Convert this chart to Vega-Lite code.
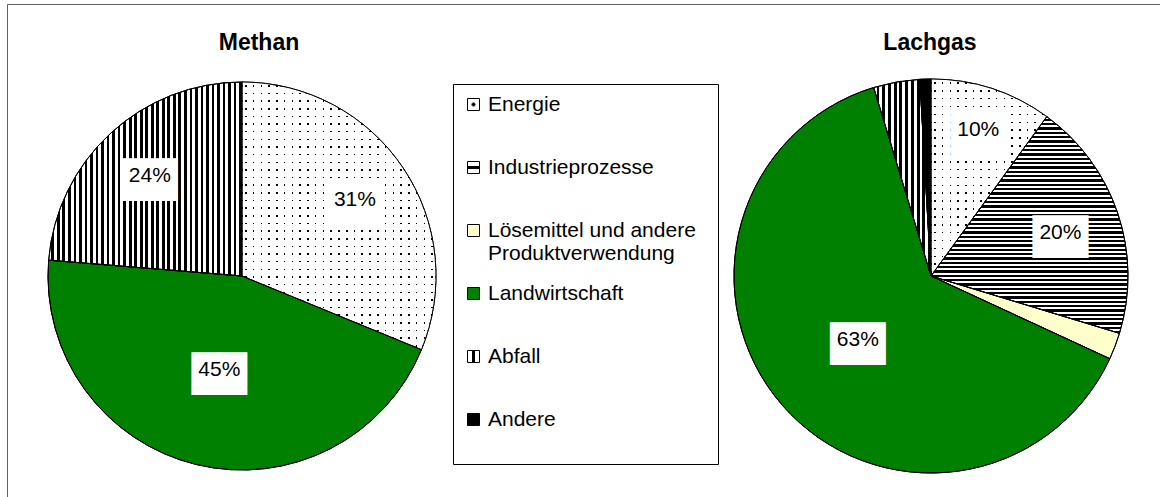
{
"$schema": "https://vega.github.io/schema/vega-lite/v6.json",
"width": 1160, "height": 497,
"autosize": {"type": "fit", "contains": "padding"},
"padding": {"left": 7, "top": 4, "right": -3, "bottom": -3},
"background": "white",
"config": {"view": {"stroke": "#606060", "strokeWidth": 1}, "font": "Liberation Sans"},
"data": {"values": [
 {"gas": "Methan", "cat": "Energie", "share": 0.312, "ord": 1},
 {"gas": "Methan", "cat": "Landwirtschaft", "share": 0.451, "ord": 4},
 {"gas": "Methan", "cat": "Abfall", "share": 0.237, "ord": 5},
 {"gas": "Lachgas", "cat": "Energie", "share": 0.100, "ord": 1},
 {"gas": "Lachgas", "cat": "Industrieprozesse", "share": 0.197, "ord": 2},
 {"gas": "Lachgas", "cat": "Lösemittel und andere Produktverwendung", "share": 0.022, "ord": 3},
 {"gas": "Lachgas", "cat": "Landwirtschaft", "share": 0.634, "ord": 4},
 {"gas": "Lachgas", "cat": "Abfall", "share": 0.038, "ord": 5},
 {"gas": "Lachgas", "cat": "Andere", "share": 0.009, "ord": 6}
]},
"encoding": {
 "x": {"field": "gas", "type": "nominal", "scale": {"type": "point", "domain": ["Methan", "Lachgas"], "padding": 0.3389, "align": 0.5032}, "axis": null},
 "y": {"datum": "pie", "type": "nominal", "scale": {"type": "point", "domain": ["title", "pie"], "padding": 0.5644, "align": 0.1483}, "axis": null}
},
"layer": [
 {
  "transform": [{"filter": "datum.gas === 'Methan'"}],
  "layer": [
   {
    "mark": {"type": "arc", "outerRadius": 194, "stroke": "black", "strokeWidth": 1},
    "encoding": {
     "theta": {"field": "share", "type": "quantitative", "stack": true},
     "order": {"field": "ord", "type": "quantitative"},
     "fill": {
      "condition": [
       {"test": "datum.cat === 'Energie'", "value": {"gradient": "linear", "x1": 0, "y1": 0, "x2": 1, "y2": 0, "stops": [
{"offset":0,"color":"#fff"},
{"offset":0.016,"color":"#fff"},{"offset":0.016,"color":"#000"},{"offset":0.024,"color":"#000"},{"offset":0.024,"color":"#fff"},
{"offset":0.056,"color":"#fff"},{"offset":0.056,"color":"#000"},{"offset":0.064,"color":"#000"},{"offset":0.064,"color":"#fff"},
{"offset":0.096,"color":"#fff"},{"offset":0.096,"color":"#000"},{"offset":0.104,"color":"#000"},{"offset":0.104,"color":"#fff"},
{"offset":0.136,"color":"#fff"},{"offset":0.136,"color":"#000"},{"offset":0.144,"color":"#000"},{"offset":0.144,"color":"#fff"},
{"offset":0.176,"color":"#fff"},{"offset":0.176,"color":"#000"},{"offset":0.184,"color":"#000"},{"offset":0.184,"color":"#fff"},
{"offset":0.216,"color":"#fff"},{"offset":0.216,"color":"#000"},{"offset":0.224,"color":"#000"},{"offset":0.224,"color":"#fff"},
{"offset":0.256,"color":"#fff"},{"offset":0.256,"color":"#000"},{"offset":0.264,"color":"#000"},{"offset":0.264,"color":"#fff"},
{"offset":0.296,"color":"#fff"},{"offset":0.296,"color":"#000"},{"offset":0.304,"color":"#000"},{"offset":0.304,"color":"#fff"},
{"offset":0.336,"color":"#fff"},{"offset":0.336,"color":"#000"},{"offset":0.344,"color":"#000"},{"offset":0.344,"color":"#fff"},
{"offset":0.376,"color":"#fff"},{"offset":0.376,"color":"#000"},{"offset":0.384,"color":"#000"},{"offset":0.384,"color":"#fff"},
{"offset":0.416,"color":"#fff"},{"offset":0.416,"color":"#000"},{"offset":0.424,"color":"#000"},{"offset":0.424,"color":"#fff"},
{"offset":0.456,"color":"#fff"},{"offset":0.456,"color":"#000"},{"offset":0.464,"color":"#000"},{"offset":0.464,"color":"#fff"},
{"offset":0.496,"color":"#fff"},{"offset":0.496,"color":"#000"},{"offset":0.504,"color":"#000"},{"offset":0.504,"color":"#fff"},
{"offset":0.536,"color":"#fff"},{"offset":0.536,"color":"#000"},{"offset":0.544,"color":"#000"},{"offset":0.544,"color":"#fff"},
{"offset":0.576,"color":"#fff"},{"offset":0.576,"color":"#000"},{"offset":0.584,"color":"#000"},{"offset":0.584,"color":"#fff"},
{"offset":0.616,"color":"#fff"},{"offset":0.616,"color":"#000"},{"offset":0.624,"color":"#000"},{"offset":0.624,"color":"#fff"},
{"offset":0.656,"color":"#fff"},{"offset":0.656,"color":"#000"},{"offset":0.664,"color":"#000"},{"offset":0.664,"color":"#fff"},
{"offset":0.696,"color":"#fff"},{"offset":0.696,"color":"#000"},{"offset":0.704,"color":"#000"},{"offset":0.704,"color":"#fff"},
{"offset":0.736,"color":"#fff"},{"offset":0.736,"color":"#000"},{"offset":0.744,"color":"#000"},{"offset":0.744,"color":"#fff"},
{"offset":0.776,"color":"#fff"},{"offset":0.776,"color":"#000"},{"offset":0.784,"color":"#000"},{"offset":0.784,"color":"#fff"},
{"offset":0.816,"color":"#fff"},{"offset":0.816,"color":"#000"},{"offset":0.824,"color":"#000"},{"offset":0.824,"color":"#fff"},
{"offset":0.856,"color":"#fff"},{"offset":0.856,"color":"#000"},{"offset":0.864,"color":"#000"},{"offset":0.864,"color":"#fff"},
{"offset":0.896,"color":"#fff"},{"offset":0.896,"color":"#000"},{"offset":0.904,"color":"#000"},{"offset":0.904,"color":"#fff"},
{"offset":0.936,"color":"#fff"},{"offset":0.936,"color":"#000"},{"offset":0.944,"color":"#000"},{"offset":0.944,"color":"#fff"},
{"offset":0.976,"color":"#fff"},{"offset":0.976,"color":"#000"},{"offset":0.984,"color":"#000"},{"offset":0.984,"color":"#fff"},
{"offset":1,"color":"#fff"}]}},
       {"test": "datum.cat === 'Abfall'", "value": {"gradient": "linear", "x1": 0, "y1": 0, "x2": 1, "y2": 0, "stops": [
{"offset":0,"color":"#fff"},
{"offset":0.0143,"color":"#fff"},{"offset":0.0143,"color":"#000"},{"offset":0.0286,"color":"#000"},{"offset":0.0286,"color":"#fff"},
{"offset":0.0429,"color":"#fff"},{"offset":0.0429,"color":"#000"},{"offset":0.0571,"color":"#000"},{"offset":0.0571,"color":"#fff"},
{"offset":0.0714,"color":"#fff"},{"offset":0.0714,"color":"#000"},{"offset":0.0857,"color":"#000"},{"offset":0.0857,"color":"#fff"},
{"offset":0.1,"color":"#fff"},{"offset":0.1,"color":"#000"},{"offset":0.1143,"color":"#000"},{"offset":0.1143,"color":"#fff"},
{"offset":0.1286,"color":"#fff"},{"offset":0.1286,"color":"#000"},{"offset":0.1429,"color":"#000"},{"offset":0.1429,"color":"#fff"},
{"offset":0.1571,"color":"#fff"},{"offset":0.1571,"color":"#000"},{"offset":0.1714,"color":"#000"},{"offset":0.1714,"color":"#fff"},
{"offset":0.1857,"color":"#fff"},{"offset":0.1857,"color":"#000"},{"offset":0.2,"color":"#000"},{"offset":0.2,"color":"#fff"},
{"offset":0.2143,"color":"#fff"},{"offset":0.2143,"color":"#000"},{"offset":0.2286,"color":"#000"},{"offset":0.2286,"color":"#fff"},
{"offset":0.2429,"color":"#fff"},{"offset":0.2429,"color":"#000"},{"offset":0.2571,"color":"#000"},{"offset":0.2571,"color":"#fff"},
{"offset":0.2714,"color":"#fff"},{"offset":0.2714,"color":"#000"},{"offset":0.2857,"color":"#000"},{"offset":0.2857,"color":"#fff"},
{"offset":0.3,"color":"#fff"},{"offset":0.3,"color":"#000"},{"offset":0.3143,"color":"#000"},{"offset":0.3143,"color":"#fff"},
{"offset":0.3286,"color":"#fff"},{"offset":0.3286,"color":"#000"},{"offset":0.3429,"color":"#000"},{"offset":0.3429,"color":"#fff"},
{"offset":0.3571,"color":"#fff"},{"offset":0.3571,"color":"#000"},{"offset":0.3714,"color":"#000"},{"offset":0.3714,"color":"#fff"},
{"offset":0.3857,"color":"#fff"},{"offset":0.3857,"color":"#000"},{"offset":0.4,"color":"#000"},{"offset":0.4,"color":"#fff"},
{"offset":0.4143,"color":"#fff"},{"offset":0.4143,"color":"#000"},{"offset":0.4286,"color":"#000"},{"offset":0.4286,"color":"#fff"},
{"offset":0.4429,"color":"#fff"},{"offset":0.4429,"color":"#000"},{"offset":0.4571,"color":"#000"},{"offset":0.4571,"color":"#fff"},
{"offset":0.4714,"color":"#fff"},{"offset":0.4714,"color":"#000"},{"offset":0.4857,"color":"#000"},{"offset":0.4857,"color":"#fff"},
{"offset":0.5,"color":"#fff"},{"offset":0.5,"color":"#000"},{"offset":0.5143,"color":"#000"},{"offset":0.5143,"color":"#fff"},
{"offset":0.5286,"color":"#fff"},{"offset":0.5286,"color":"#000"},{"offset":0.5429,"color":"#000"},{"offset":0.5429,"color":"#fff"},
{"offset":0.5571,"color":"#fff"},{"offset":0.5571,"color":"#000"},{"offset":0.5714,"color":"#000"},{"offset":0.5714,"color":"#fff"},
{"offset":0.5857,"color":"#fff"},{"offset":0.5857,"color":"#000"},{"offset":0.6,"color":"#000"},{"offset":0.6,"color":"#fff"},
{"offset":0.6143,"color":"#fff"},{"offset":0.6143,"color":"#000"},{"offset":0.6286,"color":"#000"},{"offset":0.6286,"color":"#fff"},
{"offset":0.6429,"color":"#fff"},{"offset":0.6429,"color":"#000"},{"offset":0.6571,"color":"#000"},{"offset":0.6571,"color":"#fff"},
{"offset":0.6714,"color":"#fff"},{"offset":0.6714,"color":"#000"},{"offset":0.6857,"color":"#000"},{"offset":0.6857,"color":"#fff"},
{"offset":0.7,"color":"#fff"},{"offset":0.7,"color":"#000"},{"offset":0.7143,"color":"#000"},{"offset":0.7143,"color":"#fff"},
{"offset":0.7286,"color":"#fff"},{"offset":0.7286,"color":"#000"},{"offset":0.7429,"color":"#000"},{"offset":0.7429,"color":"#fff"},
{"offset":0.7571,"color":"#fff"},{"offset":0.7571,"color":"#000"},{"offset":0.7714,"color":"#000"},{"offset":0.7714,"color":"#fff"},
{"offset":0.7857,"color":"#fff"},{"offset":0.7857,"color":"#000"},{"offset":0.8,"color":"#000"},{"offset":0.8,"color":"#fff"},
{"offset":0.8143,"color":"#fff"},{"offset":0.8143,"color":"#000"},{"offset":0.8286,"color":"#000"},{"offset":0.8286,"color":"#fff"},
{"offset":0.8429,"color":"#fff"},{"offset":0.8429,"color":"#000"},{"offset":0.8571,"color":"#000"},{"offset":0.8571,"color":"#fff"},
{"offset":0.8714,"color":"#fff"},{"offset":0.8714,"color":"#000"},{"offset":0.8857,"color":"#000"},{"offset":0.8857,"color":"#fff"},
{"offset":0.9,"color":"#fff"},{"offset":0.9,"color":"#000"},{"offset":0.9143,"color":"#000"},{"offset":0.9143,"color":"#fff"},
{"offset":0.9286,"color":"#fff"},{"offset":0.9286,"color":"#000"},{"offset":0.9429,"color":"#000"},{"offset":0.9429,"color":"#fff"},
{"offset":0.9571,"color":"#fff"},{"offset":0.9571,"color":"#000"},{"offset":0.9714,"color":"#000"},{"offset":0.9714,"color":"#fff"},
{"offset":0.9857,"color":"#fff"},{"offset":0.9857,"color":"#000"},{"offset":1,"color":"#000"}]}}
      ],
      "field": "cat", "type": "nominal",
      "scale": {"domain": ["Energie", "Industrieprozesse", "Lösemittel und andere Produktverwendung", "Landwirtschaft", "Abfall", "Andere"], "range": [
       {"expr": "{gradient: 'radial', x1: 0.5, y1: 0.5, r1: 0, x2: 0.5, y2: 0.5, r2: 0.5, stops: [{offset: 0, color: '#000'}, {offset: 0.3, color: '#000'}, {offset: 0.3, color: '#fff'}, {offset: 1, color: '#fff'}]}"},
       {"expr": "{gradient: 'linear', x1: 0, y1: 0, x2: 0, y2: 1, stops: [{offset: 0, color: '#fff'}, {offset: 0.38, color: '#fff'}, {offset: 0.38, color: '#000'}, {offset: 0.62, color: '#000'}, {offset: 0.62, color: '#fff'}, {offset: 1, color: '#fff'}]}"},
       "#ffffcc", "#008000",
       {"expr": "{gradient: 'linear', x1: 0, y1: 0, x2: 1, y2: 0, stops: [{offset: 0, color: '#fff'}, {offset: 0.38, color: '#fff'}, {offset: 0.38, color: '#000'}, {offset: 0.62, color: '#000'}, {offset: 0.62, color: '#fff'}, {offset: 1, color: '#fff'}]}"},
       "#000000"]},
      "legend": {
       "orient": "none", "legendX": 446, "legendY": 80, "direction": "vertical",
       "title": "\u200b\u00a0\u00a0\u00a0\u00a0\u00a0\u00a0\u00a0\u00a0\u00a0\u00a0\u00a0\u00a0\u00a0\u00a0\u00a0\u00a0\u00a0\u00a0\u00a0\u00a0\u00a0\u00a0\u00a0\u00a0\u00a0\u00a0\u00a0\u00a0\u00a0\u00a0\u00a0\u00a0\u00a0\u00a0\u00a0\u00a0\u00a0\u00a0\u00a0\u00a0\u00a0\u00a0\u00a0\u00a0\u200b",
       "titleOrient": "bottom", "titleFont": "Liberation Sans", "titleFontSize": 20, "titlePadding": 4, "titleLimit": 400, "titleColor": "white",
       "symbolType": "square", "symbolSize": 144, "symbolStrokeWidth": 1,
       "labelFont": "Liberation Sans", "labelFontSize": 21, "labelColor": "black", "labelLimit": 400,
       "labelOffset": 4, "symbolOffset": 0, "padding": 10, "rowPadding": 18, "gridAlign": "all",
       "strokeColor": "black",
       "labelExpr": "datum.label === 'Lösemittel und andere Produktverwendung' ? ['Lösemittel und andere', 'Produktverwendung'] : datum.label",
       "encode": {"labels": {"lineHeight": {"value": 25}}}
      }
     }
    }
   },
   {
    "mark": {"type": "arc", "outerRadius": 194, "stroke": "black", "strokeWidth": 1},
    "encoding": {
     "theta": {"field": "share", "type": "quantitative", "stack": true},
     "order": {"field": "ord", "type": "quantitative"},
     "fill": {"condition": {"test": "datum.cat === 'Energie'", "value": {"gradient": "linear", "x1": 0, "y1": 0, "x2": 0, "y2": 1, "stops": [
{"offset":0,"color":"#fff"},
{"offset":0.0114,"color":"#fff"},{"offset":0.0114,"color":"transparent"},{"offset":0.0171,"color":"transparent"},{"offset":0.0171,"color":"#fff"},
{"offset":0.04,"color":"#fff"},{"offset":0.04,"color":"transparent"},{"offset":0.0457,"color":"transparent"},{"offset":0.0457,"color":"#fff"},
{"offset":0.0686,"color":"#fff"},{"offset":0.0686,"color":"transparent"},{"offset":0.0743,"color":"transparent"},{"offset":0.0743,"color":"#fff"},
{"offset":0.0971,"color":"#fff"},{"offset":0.0971,"color":"transparent"},{"offset":0.1028,"color":"transparent"},{"offset":0.1028,"color":"#fff"},
{"offset":0.1257,"color":"#fff"},{"offset":0.1257,"color":"transparent"},{"offset":0.1314,"color":"transparent"},{"offset":0.1314,"color":"#fff"},
{"offset":0.1543,"color":"#fff"},{"offset":0.1543,"color":"transparent"},{"offset":0.16,"color":"transparent"},{"offset":0.16,"color":"#fff"},
{"offset":0.1828,"color":"#fff"},{"offset":0.1828,"color":"transparent"},{"offset":0.1885,"color":"transparent"},{"offset":0.1885,"color":"#fff"},
{"offset":0.2114,"color":"#fff"},{"offset":0.2114,"color":"transparent"},{"offset":0.2171,"color":"transparent"},{"offset":0.2171,"color":"#fff"},
{"offset":0.24,"color":"#fff"},{"offset":0.24,"color":"transparent"},{"offset":0.2457,"color":"transparent"},{"offset":0.2457,"color":"#fff"},
{"offset":0.2685,"color":"#fff"},{"offset":0.2685,"color":"transparent"},{"offset":0.2742,"color":"transparent"},{"offset":0.2742,"color":"#fff"},
{"offset":0.2971,"color":"#fff"},{"offset":0.2971,"color":"transparent"},{"offset":0.3028,"color":"transparent"},{"offset":0.3028,"color":"#fff"},
{"offset":0.3257,"color":"#fff"},{"offset":0.3257,"color":"transparent"},{"offset":0.3314,"color":"transparent"},{"offset":0.3314,"color":"#fff"},
{"offset":0.3543,"color":"#fff"},{"offset":0.3543,"color":"transparent"},{"offset":0.36,"color":"transparent"},{"offset":0.36,"color":"#fff"},
{"offset":0.3828,"color":"#fff"},{"offset":0.3828,"color":"transparent"},{"offset":0.3885,"color":"transparent"},{"offset":0.3885,"color":"#fff"},
{"offset":0.4114,"color":"#fff"},{"offset":0.4114,"color":"transparent"},{"offset":0.4171,"color":"transparent"},{"offset":0.4171,"color":"#fff"},
{"offset":0.44,"color":"#fff"},{"offset":0.44,"color":"transparent"},{"offset":0.4457,"color":"transparent"},{"offset":0.4457,"color":"#fff"},
{"offset":0.4685,"color":"#fff"},{"offset":0.4685,"color":"transparent"},{"offset":0.4742,"color":"transparent"},{"offset":0.4742,"color":"#fff"},
{"offset":0.4971,"color":"#fff"},{"offset":0.4971,"color":"transparent"},{"offset":0.5028,"color":"transparent"},{"offset":0.5028,"color":"#fff"},
{"offset":0.5257,"color":"#fff"},{"offset":0.5257,"color":"transparent"},{"offset":0.5314,"color":"transparent"},{"offset":0.5314,"color":"#fff"},
{"offset":0.5543,"color":"#fff"},{"offset":0.5543,"color":"transparent"},{"offset":0.56,"color":"transparent"},{"offset":0.56,"color":"#fff"},
{"offset":0.5828,"color":"#fff"},{"offset":0.5828,"color":"transparent"},{"offset":0.5885,"color":"transparent"},{"offset":0.5885,"color":"#fff"},
{"offset":0.6114,"color":"#fff"},{"offset":0.6114,"color":"transparent"},{"offset":0.6171,"color":"transparent"},{"offset":0.6171,"color":"#fff"},
{"offset":0.64,"color":"#fff"},{"offset":0.64,"color":"transparent"},{"offset":0.6457,"color":"transparent"},{"offset":0.6457,"color":"#fff"},
{"offset":0.6685,"color":"#fff"},{"offset":0.6685,"color":"transparent"},{"offset":0.6742,"color":"transparent"},{"offset":0.6742,"color":"#fff"},
{"offset":0.6971,"color":"#fff"},{"offset":0.6971,"color":"transparent"},{"offset":0.7028,"color":"transparent"},{"offset":0.7028,"color":"#fff"},
{"offset":0.7257,"color":"#fff"},{"offset":0.7257,"color":"transparent"},{"offset":0.7314,"color":"transparent"},{"offset":0.7314,"color":"#fff"},
{"offset":0.7543,"color":"#fff"},{"offset":0.7543,"color":"transparent"},{"offset":0.76,"color":"transparent"},{"offset":0.76,"color":"#fff"},
{"offset":0.7828,"color":"#fff"},{"offset":0.7828,"color":"transparent"},{"offset":0.7885,"color":"transparent"},{"offset":0.7885,"color":"#fff"},
{"offset":0.8114,"color":"#fff"},{"offset":0.8114,"color":"transparent"},{"offset":0.8171,"color":"transparent"},{"offset":0.8171,"color":"#fff"},
{"offset":0.84,"color":"#fff"},{"offset":0.84,"color":"transparent"},{"offset":0.8457,"color":"transparent"},{"offset":0.8457,"color":"#fff"},
{"offset":0.8685,"color":"#fff"},{"offset":0.8685,"color":"transparent"},{"offset":0.8742,"color":"transparent"},{"offset":0.8742,"color":"#fff"},
{"offset":0.8971,"color":"#fff"},{"offset":0.8971,"color":"transparent"},{"offset":0.9028,"color":"transparent"},{"offset":0.9028,"color":"#fff"},
{"offset":0.9257,"color":"#fff"},{"offset":0.9257,"color":"transparent"},{"offset":0.9314,"color":"transparent"},{"offset":0.9314,"color":"#fff"},
{"offset":0.9543,"color":"#fff"},{"offset":0.9543,"color":"transparent"},{"offset":0.96,"color":"transparent"},{"offset":0.96,"color":"#fff"},
{"offset":0.9828,"color":"#fff"},{"offset":0.9828,"color":"transparent"},{"offset":0.9885,"color":"transparent"},{"offset":0.9885,"color":"#fff"},
{"offset":1,"color":"#fff"}]}},
      "value": "transparent"}
    }
   },
   {
    "mark": {"type": "text", "font": "DejaVu Sans", "fontSize": 36, "fill": "white", "baseline": "middle", "align": "center", "dy": 5},
    "encoding": {
     "theta": {"field": "share", "type": "quantitative", "stack": true},
     "order": {"field": "ord", "type": "quantitative"},
     "radius": {"field": "share", "type": "quantitative", "scale": {"type": "linear", "domain": [0.1, 0.2, 0.32, 0.45], "range": [153, 136, 136, 97], "clamp": true, "zero": false}},
     "text": {"condition": {"test": "datum.share < 0.05", "value": ""}, "value": "██"}
    }
   },
   {
    "mark": {"type": "text", "font": "Liberation Sans", "fontSize": 21, "fill": "black", "baseline": "middle", "align": "center"},
    "encoding": {
     "theta": {"field": "share", "type": "quantitative", "stack": true},
     "order": {"field": "ord", "type": "quantitative"},
     "radius": {"field": "share", "type": "quantitative", "scale": {"type": "linear", "domain": [0.1, 0.2, 0.32, 0.45], "range": [153, 136, 136, 97], "clamp": true, "zero": false}},
     "text": {"condition": {"test": "datum.share < 0.05", "value": ""}, "field": "share", "type": "quantitative", "format": ".0%"}
    }
   },
   {
    "transform": [{"aggregate": [{"op": "count", "as": "n"}], "groupby": ["gas"]}],
    "mark": {"type": "text", "font": "Liberation Sans", "fontSize": 23, "fontWeight": "bold", "fill": "black", "baseline": "middle", "align": "center", "dx": 17},
    "encoding": {"y": {"datum": "title", "type": "nominal"}, "text": {"field": "gas", "type": "nominal"}}
   }
  ]
 },
 {
  "transform": [{"filter": "datum.gas === 'Lachgas'"}],
  "layer": [
   {
    "mark": {"type": "arc", "outerRadius": 197, "stroke": "black", "strokeWidth": 1},
    "encoding": {
     "theta": {"field": "share", "type": "quantitative", "stack": true},
     "order": {"field": "ord", "type": "quantitative"},
     "fill": {
      "condition": [
       {"test": "datum.cat === 'Energie'", "value": {"gradient": "linear", "x1": 0, "y1": 0, "x2": 1, "y2": 0, "stops": [
{"offset":0,"color":"#fff"},
{"offset":0.0267,"color":"#fff"},{"offset":0.0267,"color":"#000"},{"offset":0.04,"color":"#000"},{"offset":0.04,"color":"#fff"},
{"offset":0.0933,"color":"#fff"},{"offset":0.0933,"color":"#000"},{"offset":0.1067,"color":"#000"},{"offset":0.1067,"color":"#fff"},
{"offset":0.16,"color":"#fff"},{"offset":0.16,"color":"#000"},{"offset":0.1733,"color":"#000"},{"offset":0.1733,"color":"#fff"},
{"offset":0.2267,"color":"#fff"},{"offset":0.2267,"color":"#000"},{"offset":0.24,"color":"#000"},{"offset":0.24,"color":"#fff"},
{"offset":0.2933,"color":"#fff"},{"offset":0.2933,"color":"#000"},{"offset":0.3067,"color":"#000"},{"offset":0.3067,"color":"#fff"},
{"offset":0.36,"color":"#fff"},{"offset":0.36,"color":"#000"},{"offset":0.3733,"color":"#000"},{"offset":0.3733,"color":"#fff"},
{"offset":0.4267,"color":"#fff"},{"offset":0.4267,"color":"#000"},{"offset":0.44,"color":"#000"},{"offset":0.44,"color":"#fff"},
{"offset":0.4933,"color":"#fff"},{"offset":0.4933,"color":"#000"},{"offset":0.5067,"color":"#000"},{"offset":0.5067,"color":"#fff"},
{"offset":0.56,"color":"#fff"},{"offset":0.56,"color":"#000"},{"offset":0.5733,"color":"#000"},{"offset":0.5733,"color":"#fff"},
{"offset":0.6267,"color":"#fff"},{"offset":0.6267,"color":"#000"},{"offset":0.64,"color":"#000"},{"offset":0.64,"color":"#fff"},
{"offset":0.6933,"color":"#fff"},{"offset":0.6933,"color":"#000"},{"offset":0.7067,"color":"#000"},{"offset":0.7067,"color":"#fff"},
{"offset":0.76,"color":"#fff"},{"offset":0.76,"color":"#000"},{"offset":0.7733,"color":"#000"},{"offset":0.7733,"color":"#fff"},
{"offset":0.8267,"color":"#fff"},{"offset":0.8267,"color":"#000"},{"offset":0.84,"color":"#000"},{"offset":0.84,"color":"#fff"},
{"offset":0.8933,"color":"#fff"},{"offset":0.8933,"color":"#000"},{"offset":0.9067,"color":"#000"},{"offset":0.9067,"color":"#fff"},
{"offset":0.96,"color":"#fff"},{"offset":0.96,"color":"#000"},{"offset":0.9733,"color":"#000"},{"offset":0.9733,"color":"#fff"},
{"offset":1,"color":"#fff"}]}},
       {"test": "datum.cat === 'Industrieprozesse'", "value": {"gradient": "linear", "x1": 0, "y1": 0, "x2": 0, "y2": 1, "stops": [
{"offset":0,"color":"#fff"},
{"offset":0.01,"color":"#fff"},{"offset":0.01,"color":"#000"},{"offset":0.02,"color":"#000"},{"offset":0.02,"color":"#fff"},
{"offset":0.03,"color":"#fff"},{"offset":0.03,"color":"#000"},{"offset":0.04,"color":"#000"},{"offset":0.04,"color":"#fff"},
{"offset":0.05,"color":"#fff"},{"offset":0.05,"color":"#000"},{"offset":0.06,"color":"#000"},{"offset":0.06,"color":"#fff"},
{"offset":0.07,"color":"#fff"},{"offset":0.07,"color":"#000"},{"offset":0.08,"color":"#000"},{"offset":0.08,"color":"#fff"},
{"offset":0.09,"color":"#fff"},{"offset":0.09,"color":"#000"},{"offset":0.1,"color":"#000"},{"offset":0.1,"color":"#fff"},
{"offset":0.11,"color":"#fff"},{"offset":0.11,"color":"#000"},{"offset":0.12,"color":"#000"},{"offset":0.12,"color":"#fff"},
{"offset":0.13,"color":"#fff"},{"offset":0.13,"color":"#000"},{"offset":0.14,"color":"#000"},{"offset":0.14,"color":"#fff"},
{"offset":0.15,"color":"#fff"},{"offset":0.15,"color":"#000"},{"offset":0.16,"color":"#000"},{"offset":0.16,"color":"#fff"},
{"offset":0.17,"color":"#fff"},{"offset":0.17,"color":"#000"},{"offset":0.18,"color":"#000"},{"offset":0.18,"color":"#fff"},
{"offset":0.19,"color":"#fff"},{"offset":0.19,"color":"#000"},{"offset":0.2,"color":"#000"},{"offset":0.2,"color":"#fff"},
{"offset":0.21,"color":"#fff"},{"offset":0.21,"color":"#000"},{"offset":0.22,"color":"#000"},{"offset":0.22,"color":"#fff"},
{"offset":0.23,"color":"#fff"},{"offset":0.23,"color":"#000"},{"offset":0.24,"color":"#000"},{"offset":0.24,"color":"#fff"},
{"offset":0.25,"color":"#fff"},{"offset":0.25,"color":"#000"},{"offset":0.26,"color":"#000"},{"offset":0.26,"color":"#fff"},
{"offset":0.27,"color":"#fff"},{"offset":0.27,"color":"#000"},{"offset":0.28,"color":"#000"},{"offset":0.28,"color":"#fff"},
{"offset":0.29,"color":"#fff"},{"offset":0.29,"color":"#000"},{"offset":0.3,"color":"#000"},{"offset":0.3,"color":"#fff"},
{"offset":0.31,"color":"#fff"},{"offset":0.31,"color":"#000"},{"offset":0.32,"color":"#000"},{"offset":0.32,"color":"#fff"},
{"offset":0.33,"color":"#fff"},{"offset":0.33,"color":"#000"},{"offset":0.34,"color":"#000"},{"offset":0.34,"color":"#fff"},
{"offset":0.35,"color":"#fff"},{"offset":0.35,"color":"#000"},{"offset":0.36,"color":"#000"},{"offset":0.36,"color":"#fff"},
{"offset":0.37,"color":"#fff"},{"offset":0.37,"color":"#000"},{"offset":0.38,"color":"#000"},{"offset":0.38,"color":"#fff"},
{"offset":0.39,"color":"#fff"},{"offset":0.39,"color":"#000"},{"offset":0.4,"color":"#000"},{"offset":0.4,"color":"#fff"},
{"offset":0.41,"color":"#fff"},{"offset":0.41,"color":"#000"},{"offset":0.42,"color":"#000"},{"offset":0.42,"color":"#fff"},
{"offset":0.43,"color":"#fff"},{"offset":0.43,"color":"#000"},{"offset":0.44,"color":"#000"},{"offset":0.44,"color":"#fff"},
{"offset":0.45,"color":"#fff"},{"offset":0.45,"color":"#000"},{"offset":0.46,"color":"#000"},{"offset":0.46,"color":"#fff"},
{"offset":0.47,"color":"#fff"},{"offset":0.47,"color":"#000"},{"offset":0.48,"color":"#000"},{"offset":0.48,"color":"#fff"},
{"offset":0.49,"color":"#fff"},{"offset":0.49,"color":"#000"},{"offset":0.5,"color":"#000"},{"offset":0.5,"color":"#fff"},
{"offset":0.51,"color":"#fff"},{"offset":0.51,"color":"#000"},{"offset":0.52,"color":"#000"},{"offset":0.52,"color":"#fff"},
{"offset":0.53,"color":"#fff"},{"offset":0.53,"color":"#000"},{"offset":0.54,"color":"#000"},{"offset":0.54,"color":"#fff"},
{"offset":0.55,"color":"#fff"},{"offset":0.55,"color":"#000"},{"offset":0.56,"color":"#000"},{"offset":0.56,"color":"#fff"},
{"offset":0.57,"color":"#fff"},{"offset":0.57,"color":"#000"},{"offset":0.58,"color":"#000"},{"offset":0.58,"color":"#fff"},
{"offset":0.59,"color":"#fff"},{"offset":0.59,"color":"#000"},{"offset":0.6,"color":"#000"},{"offset":0.6,"color":"#fff"},
{"offset":0.61,"color":"#fff"},{"offset":0.61,"color":"#000"},{"offset":0.62,"color":"#000"},{"offset":0.62,"color":"#fff"},
{"offset":0.63,"color":"#fff"},{"offset":0.63,"color":"#000"},{"offset":0.64,"color":"#000"},{"offset":0.64,"color":"#fff"},
{"offset":0.65,"color":"#fff"},{"offset":0.65,"color":"#000"},{"offset":0.66,"color":"#000"},{"offset":0.66,"color":"#fff"},
{"offset":0.67,"color":"#fff"},{"offset":0.67,"color":"#000"},{"offset":0.68,"color":"#000"},{"offset":0.68,"color":"#fff"},
{"offset":0.69,"color":"#fff"},{"offset":0.69,"color":"#000"},{"offset":0.7,"color":"#000"},{"offset":0.7,"color":"#fff"},
{"offset":0.71,"color":"#fff"},{"offset":0.71,"color":"#000"},{"offset":0.72,"color":"#000"},{"offset":0.72,"color":"#fff"},
{"offset":0.73,"color":"#fff"},{"offset":0.73,"color":"#000"},{"offset":0.74,"color":"#000"},{"offset":0.74,"color":"#fff"},
{"offset":0.75,"color":"#fff"},{"offset":0.75,"color":"#000"},{"offset":0.76,"color":"#000"},{"offset":0.76,"color":"#fff"},
{"offset":0.77,"color":"#fff"},{"offset":0.77,"color":"#000"},{"offset":0.78,"color":"#000"},{"offset":0.78,"color":"#fff"},
{"offset":0.79,"color":"#fff"},{"offset":0.79,"color":"#000"},{"offset":0.8,"color":"#000"},{"offset":0.8,"color":"#fff"},
{"offset":0.81,"color":"#fff"},{"offset":0.81,"color":"#000"},{"offset":0.82,"color":"#000"},{"offset":0.82,"color":"#fff"},
{"offset":0.83,"color":"#fff"},{"offset":0.83,"color":"#000"},{"offset":0.84,"color":"#000"},{"offset":0.84,"color":"#fff"},
{"offset":0.85,"color":"#fff"},{"offset":0.85,"color":"#000"},{"offset":0.86,"color":"#000"},{"offset":0.86,"color":"#fff"},
{"offset":0.87,"color":"#fff"},{"offset":0.87,"color":"#000"},{"offset":0.88,"color":"#000"},{"offset":0.88,"color":"#fff"},
{"offset":0.89,"color":"#fff"},{"offset":0.89,"color":"#000"},{"offset":0.9,"color":"#000"},{"offset":0.9,"color":"#fff"},
{"offset":0.91,"color":"#fff"},{"offset":0.91,"color":"#000"},{"offset":0.92,"color":"#000"},{"offset":0.92,"color":"#fff"},
{"offset":0.93,"color":"#fff"},{"offset":0.93,"color":"#000"},{"offset":0.94,"color":"#000"},{"offset":0.94,"color":"#fff"},
{"offset":0.95,"color":"#fff"},{"offset":0.95,"color":"#000"},{"offset":0.96,"color":"#000"},{"offset":0.96,"color":"#fff"},
{"offset":0.97,"color":"#fff"},{"offset":0.97,"color":"#000"},{"offset":0.98,"color":"#000"},{"offset":0.98,"color":"#fff"},
{"offset":0.99,"color":"#fff"},{"offset":0.99,"color":"#000"},{"offset":1,"color":"#000"}]}},
       {"test": "datum.cat === 'Abfall'", "value": {"gradient": "linear", "x1": 0, "y1": 0, "x2": 1, "y2": 0, "stops": [
{"offset":0,"color":"#fff"},
{"offset":0.05,"color":"#fff"},{"offset":0.05,"color":"#000"},{"offset":0.1,"color":"#000"},{"offset":0.1,"color":"#fff"},
{"offset":0.15,"color":"#fff"},{"offset":0.15,"color":"#000"},{"offset":0.2,"color":"#000"},{"offset":0.2,"color":"#fff"},
{"offset":0.25,"color":"#fff"},{"offset":0.25,"color":"#000"},{"offset":0.3,"color":"#000"},{"offset":0.3,"color":"#fff"},
{"offset":0.35,"color":"#fff"},{"offset":0.35,"color":"#000"},{"offset":0.4,"color":"#000"},{"offset":0.4,"color":"#fff"},
{"offset":0.45,"color":"#fff"},{"offset":0.45,"color":"#000"},{"offset":0.5,"color":"#000"},{"offset":0.5,"color":"#fff"},
{"offset":0.55,"color":"#fff"},{"offset":0.55,"color":"#000"},{"offset":0.6,"color":"#000"},{"offset":0.6,"color":"#fff"},
{"offset":0.65,"color":"#fff"},{"offset":0.65,"color":"#000"},{"offset":0.7,"color":"#000"},{"offset":0.7,"color":"#fff"},
{"offset":0.75,"color":"#fff"},{"offset":0.75,"color":"#000"},{"offset":0.8,"color":"#000"},{"offset":0.8,"color":"#fff"},
{"offset":0.85,"color":"#fff"},{"offset":0.85,"color":"#000"},{"offset":0.9,"color":"#000"},{"offset":0.9,"color":"#fff"},
{"offset":0.95,"color":"#fff"},{"offset":0.95,"color":"#000"},{"offset":1,"color":"#000"}]}}
      ],
      "field": "cat", "type": "nominal",
      "legend": null
     }
    }
   },
   {
    "mark": {"type": "arc", "outerRadius": 197, "stroke": "black", "strokeWidth": 1},
    "encoding": {
     "theta": {"field": "share", "type": "quantitative", "stack": true},
     "order": {"field": "ord", "type": "quantitative"},
     "fill": {"condition": {"test": "datum.cat === 'Energie'", "value": {"gradient": "linear", "x1": 0, "y1": 0, "x2": 0, "y2": 1, "stops": [
{"offset":0,"color":"#fff"},
{"offset":0.016,"color":"#fff"},{"offset":0.016,"color":"transparent"},{"offset":0.024,"color":"transparent"},{"offset":0.024,"color":"#fff"},
{"offset":0.056,"color":"#fff"},{"offset":0.056,"color":"transparent"},{"offset":0.064,"color":"transparent"},{"offset":0.064,"color":"#fff"},
{"offset":0.096,"color":"#fff"},{"offset":0.096,"color":"transparent"},{"offset":0.104,"color":"transparent"},{"offset":0.104,"color":"#fff"},
{"offset":0.136,"color":"#fff"},{"offset":0.136,"color":"transparent"},{"offset":0.144,"color":"transparent"},{"offset":0.144,"color":"#fff"},
{"offset":0.176,"color":"#fff"},{"offset":0.176,"color":"transparent"},{"offset":0.184,"color":"transparent"},{"offset":0.184,"color":"#fff"},
{"offset":0.216,"color":"#fff"},{"offset":0.216,"color":"transparent"},{"offset":0.224,"color":"transparent"},{"offset":0.224,"color":"#fff"},
{"offset":0.256,"color":"#fff"},{"offset":0.256,"color":"transparent"},{"offset":0.264,"color":"transparent"},{"offset":0.264,"color":"#fff"},
{"offset":0.296,"color":"#fff"},{"offset":0.296,"color":"transparent"},{"offset":0.304,"color":"transparent"},{"offset":0.304,"color":"#fff"},
{"offset":0.336,"color":"#fff"},{"offset":0.336,"color":"transparent"},{"offset":0.344,"color":"transparent"},{"offset":0.344,"color":"#fff"},
{"offset":0.376,"color":"#fff"},{"offset":0.376,"color":"transparent"},{"offset":0.384,"color":"transparent"},{"offset":0.384,"color":"#fff"},
{"offset":0.416,"color":"#fff"},{"offset":0.416,"color":"transparent"},{"offset":0.424,"color":"transparent"},{"offset":0.424,"color":"#fff"},
{"offset":0.456,"color":"#fff"},{"offset":0.456,"color":"transparent"},{"offset":0.464,"color":"transparent"},{"offset":0.464,"color":"#fff"},
{"offset":0.496,"color":"#fff"},{"offset":0.496,"color":"transparent"},{"offset":0.504,"color":"transparent"},{"offset":0.504,"color":"#fff"},
{"offset":0.536,"color":"#fff"},{"offset":0.536,"color":"transparent"},{"offset":0.544,"color":"transparent"},{"offset":0.544,"color":"#fff"},
{"offset":0.576,"color":"#fff"},{"offset":0.576,"color":"transparent"},{"offset":0.584,"color":"transparent"},{"offset":0.584,"color":"#fff"},
{"offset":0.616,"color":"#fff"},{"offset":0.616,"color":"transparent"},{"offset":0.624,"color":"transparent"},{"offset":0.624,"color":"#fff"},
{"offset":0.656,"color":"#fff"},{"offset":0.656,"color":"transparent"},{"offset":0.664,"color":"transparent"},{"offset":0.664,"color":"#fff"},
{"offset":0.696,"color":"#fff"},{"offset":0.696,"color":"transparent"},{"offset":0.704,"color":"transparent"},{"offset":0.704,"color":"#fff"},
{"offset":0.736,"color":"#fff"},{"offset":0.736,"color":"transparent"},{"offset":0.744,"color":"transparent"},{"offset":0.744,"color":"#fff"},
{"offset":0.776,"color":"#fff"},{"offset":0.776,"color":"transparent"},{"offset":0.784,"color":"transparent"},{"offset":0.784,"color":"#fff"},
{"offset":0.816,"color":"#fff"},{"offset":0.816,"color":"transparent"},{"offset":0.824,"color":"transparent"},{"offset":0.824,"color":"#fff"},
{"offset":0.856,"color":"#fff"},{"offset":0.856,"color":"transparent"},{"offset":0.864,"color":"transparent"},{"offset":0.864,"color":"#fff"},
{"offset":0.896,"color":"#fff"},{"offset":0.896,"color":"transparent"},{"offset":0.904,"color":"transparent"},{"offset":0.904,"color":"#fff"},
{"offset":0.936,"color":"#fff"},{"offset":0.936,"color":"transparent"},{"offset":0.944,"color":"transparent"},{"offset":0.944,"color":"#fff"},
{"offset":0.976,"color":"#fff"},{"offset":0.976,"color":"transparent"},{"offset":0.984,"color":"transparent"},{"offset":0.984,"color":"#fff"},
{"offset":1,"color":"#fff"}]}},
      "value": "transparent"}
    }
   },
   {
    "mark": {"type": "text", "font": "DejaVu Sans", "fontSize": 36, "fill": "white", "baseline": "middle", "align": "center", "dy": 5},
    "encoding": {
     "theta": {"field": "share", "type": "quantitative", "stack": true},
     "order": {"field": "ord", "type": "quantitative"},
     "radius": {"field": "share", "type": "quantitative", "scale": {"type": "linear", "domain": [0.1, 0.2, 0.32, 0.45], "range": [153, 136, 136, 97], "clamp": true, "zero": false}},
     "text": {"condition": {"test": "datum.share < 0.05", "value": ""}, "value": "██"}
    }
   },
   {
    "mark": {"type": "text", "font": "Liberation Sans", "fontSize": 21, "fill": "black", "baseline": "middle", "align": "center"},
    "encoding": {
     "theta": {"field": "share", "type": "quantitative", "stack": true},
     "order": {"field": "ord", "type": "quantitative"},
     "radius": {"field": "share", "type": "quantitative", "scale": {"type": "linear", "domain": [0.1, 0.2, 0.32, 0.45], "range": [153, 136, 136, 97], "clamp": true, "zero": false}},
     "text": {"condition": {"test": "datum.share < 0.05", "value": ""}, "field": "share", "type": "quantitative", "format": ".0%"}
    }
   },
   {
    "transform": [{"aggregate": [{"op": "count", "as": "n"}], "groupby": ["gas"]}],
    "mark": {"type": "text", "font": "Liberation Sans", "fontSize": 23, "fontWeight": "bold", "fill": "black", "baseline": "middle", "align": "center", "dx": -1},
    "encoding": {"y": {"datum": "title", "type": "nominal"}, "text": {"field": "gas", "type": "nominal"}}
   }
  ]
 }
]
}
